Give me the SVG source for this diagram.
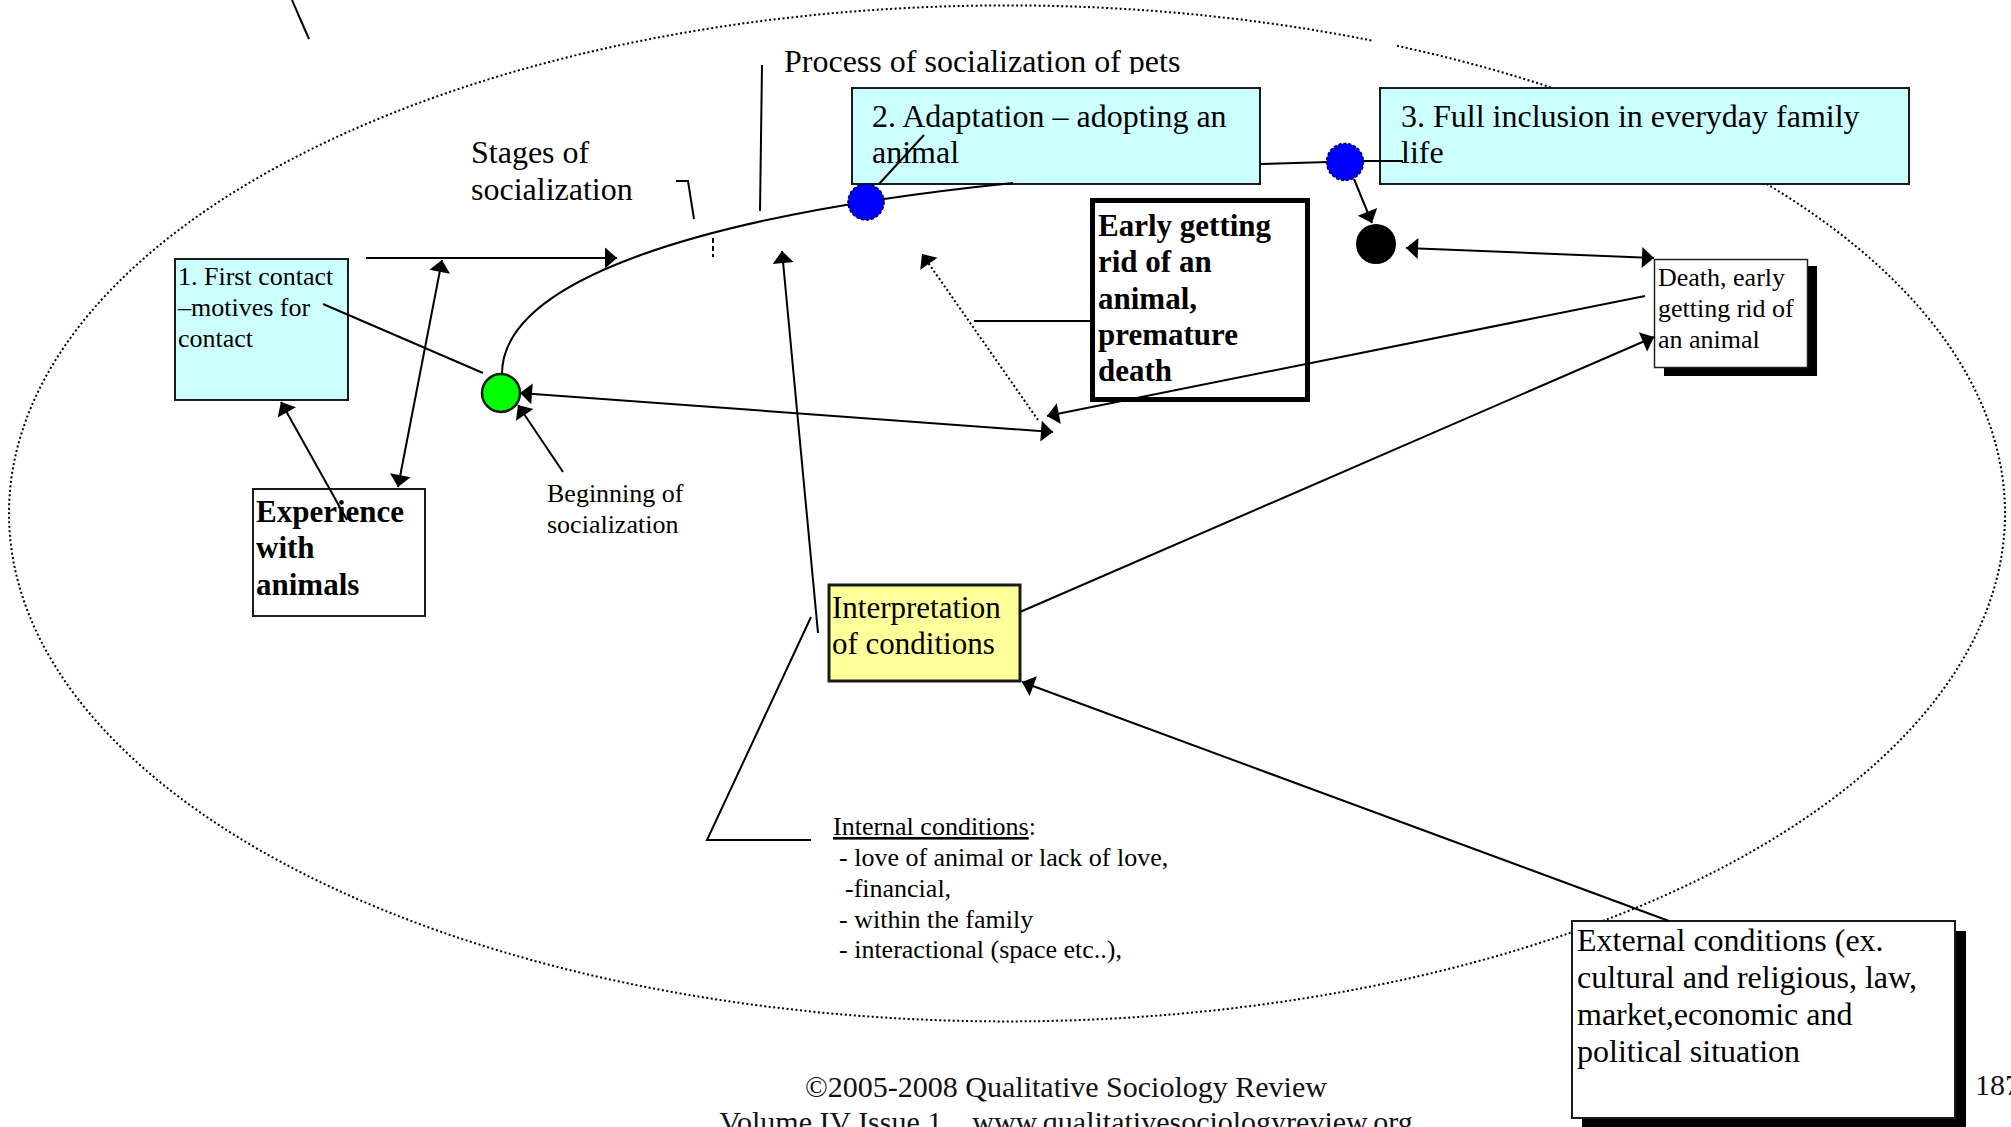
<svg xmlns="http://www.w3.org/2000/svg" width="2011" height="1127" viewBox="0 0 2011 1127">
<defs>
<style>
text{font-family:"Liberation Serif","Times New Roman",serif;fill:#000}
.t26{font-size:26px}
.t32{font-size:32px}
.b31{font-size:31px;font-weight:bold}
.box{stroke:#1a1a1a;stroke-width:2}
.ln{stroke:#000;stroke-width:2;fill:none}
.arr{marker-end:url(#ah)}
.dbl{marker-start:url(#ah);marker-end:url(#ah)}
.foot{font-size:30px;fill:#111}
</style>
<marker id="ah" markerUnits="userSpaceOnUse" orient="auto-start-reverse" refX="0" refY="0" markerWidth="30" markerHeight="30" viewBox="-15 -15 30 30" overflow="visible">
<path d="M0,0 L-12,-10.5 L-12,10.5 Z" fill="#000"/>
</marker>
<clipPath id="clipTop"><rect x="0" y="0" width="2011" height="74"/></clipPath>
</defs>
<rect width="2011" height="1127" fill="#fff"/>

<g id="frame">
<path d="M1397,45.8 A998,508 0 1 1 1373,40.8" fill="none" stroke="#000" stroke-width="2" stroke-dasharray="2 2.5"/>
</g>

<g id="labels">
<text class="t32" x="784" y="72" clip-path="url(#clipTop)">Process of socialization of pets</text>
<text class="t32" x="471" y="163">Stages of</text>
<text class="t32" x="471" y="200">socialization</text>
<text class="t26" x="547" y="502">Beginning of</text>
<text class="t26" x="547" y="533">socialization</text>
</g>

<g id="node-first-contact">
<rect class="box" x="175" y="259" width="173" height="141" fill="#ccffff"/>
<text class="t26" x="178" y="285">1. First contact</text>
<text class="t26" x="178" y="316">–motives for</text>
<text class="t26" x="178" y="347">contact</text>
</g>

<g id="node-experience">
<rect class="box" x="253" y="489" width="172" height="127" fill="#fff"/>
<text class="b31" x="256" y="522">Experience</text>
<text class="b31" x="256" y="558">with</text>
<text class="b31" x="256" y="595">animals</text>
</g>

<g id="node-adaptation">
<rect class="box" x="852" y="88" width="408" height="96" fill="#ccffff"/>
<text class="t32" x="872" y="127">2. Adaptation – adopting an</text>
<text class="t32" x="872" y="163">animal</text>
</g>

<g id="node-inclusion">
<rect class="box" x="1380" y="88" width="529" height="96" fill="#ccffff"/>
<text class="t32" x="1401" y="127">3. Full inclusion in everyday family</text>
<text class="t32" x="1401" y="163">life</text>
</g>

<g id="node-early">
<rect x="1092.5" y="200.5" width="215" height="199" fill="#fff" stroke="#000" stroke-width="5"/>
<text class="b31" x="1098" y="236">Early getting</text>
<text class="b31" x="1098" y="272">rid of an</text>
<text class="b31" x="1098" y="309">animal,</text>
<text class="b31" x="1098" y="345">premature</text>
<text class="b31" x="1098" y="381">death</text>
</g>

<g id="node-death">
<rect x="1664" y="266" width="153" height="110" fill="#000"/>
<rect x="1654.5" y="259.5" width="153" height="108" fill="#fff" stroke="#222" stroke-width="1.5"/>
<text class="t26" x="1658" y="286">Death, early</text>
<text class="t26" x="1658" y="317">getting rid of</text>
<text class="t26" x="1658" y="348">an animal</text>
</g>

<g id="node-interpretation">
<rect x="829" y="585" width="191" height="96" fill="#ffff99" stroke="#1a1a1a" stroke-width="3"/>
<text class="b31" style="font-weight:normal" x="832" y="618">Interpretation</text>
<text class="b31" style="font-weight:normal" x="832" y="654">of conditions</text>
</g>

<g id="node-internal">
<text class="t26" x="833" y="835"><tspan style="text-decoration:underline">Internal conditions</tspan>:</text>
<text class="t26" x="839" y="866">- love of animal or lack of love,</text>
<text class="t26" x="845" y="897">-financial,</text>
<text class="t26" x="839" y="928">- within the family</text>
<text class="t26" x="839" y="958">- interactional (space etc..),</text>
</g>

<g id="node-external">
<rect x="1582" y="931" width="384" height="197" fill="#000"/>
<rect x="1572" y="921" width="383" height="197" fill="#fff" stroke="#1a1a1a" stroke-width="2"/>
<text class="t32" x="1577" y="951">External conditions (ex.</text>
<text class="t32" x="1577" y="988">cultural and religious, law,</text>
<text class="t32" x="1577" y="1025">market,economic and</text>
<text class="t32" x="1577" y="1062">political situation</text>
</g>

<g id="connectors">
<line class="ln" x1="292" y1="0" x2="309" y2="39" stroke-width="1.5"/>
<path class="ln" d="M676,181 L688,181 L694,219"/>
<line class="ln" x1="762" y1="65" x2="760" y2="211"/>
<line class="ln" x1="713" y1="238" x2="713" y2="257" stroke-dasharray="5 3"/>
<line class="ln arr" x1="366" y1="258" x2="617" y2="258"/>
<line class="ln dbl" x1="442" y1="260" x2="398" y2="487"/>
<line class="ln" x1="323" y1="304" x2="483" y2="373"/>
<path class="ln" d="M502,374 C502,280 700,215 1013,183"/>
<line class="ln" x1="924" y1="135" x2="879" y2="184"/>
<line class="ln" x1="1260" y1="164" x2="1328" y2="162"/>
<line class="ln" x1="1355" y1="161" x2="1403" y2="161"/>
<line class="ln arr" x1="1354" y1="179" x2="1372" y2="223"/>
<line class="ln dbl" x1="1406" y1="248" x2="1654" y2="258"/>
<line class="ln arr" x1="1645" y1="296" x2="1047" y2="416"/>
<line class="ln dbl" x1="520" y1="393" x2="1053" y2="432"/>
<line class="ln arr" x1="1038" y1="420" x2="922" y2="254" stroke-width="1.5" stroke-dasharray="2 2.5"/>
<line class="ln" x1="974" y1="321" x2="1090" y2="321"/>
<line class="ln arr" x1="818" y1="633" x2="782" y2="251"/>
<line class="ln arr" x1="1020" y1="612" x2="1654" y2="337"/>
<line class="ln arr" x1="1669" y1="921" x2="1022" y2="682"/>
<path class="ln" d="M811,617 L707,840 L811,840" stroke-width="3"/>
<line class="ln arr" x1="347" y1="520" x2="281" y2="402"/>
<line class="ln arr" x1="563" y1="472" x2="518" y2="405"/>
</g>

<g id="node-begin">
<circle cx="501" cy="393" r="19" fill="#00ff00" stroke="#1a1a1a" stroke-width="2.5"/>
</g>
<g id="node-stage2-dot">
<circle cx="866" cy="202" r="18" fill="#0000ff" stroke="#000033" stroke-width="1.5" stroke-dasharray="3 2"/>
</g>
<g id="node-stage3-dot">
<circle cx="1345" cy="162" r="18.5" fill="#0000ff" stroke="#000033" stroke-width="1.5" stroke-dasharray="3 2"/>
</g>
<g id="node-end">
<circle cx="1376" cy="244" r="20" fill="#000"/>
</g>

<g id="footer">
<text class="foot" x="1066" y="1097" text-anchor="middle">©2005-2008 Qualitative Sociology Review</text>
<text class="foot" x="1066" y="1132" text-anchor="middle" xml:space="preserve">Volume IV Issue 1    www.qualitativesociologyreview.org</text>
<text class="foot" x="1975" y="1095">187</text>
</g>
</svg>
